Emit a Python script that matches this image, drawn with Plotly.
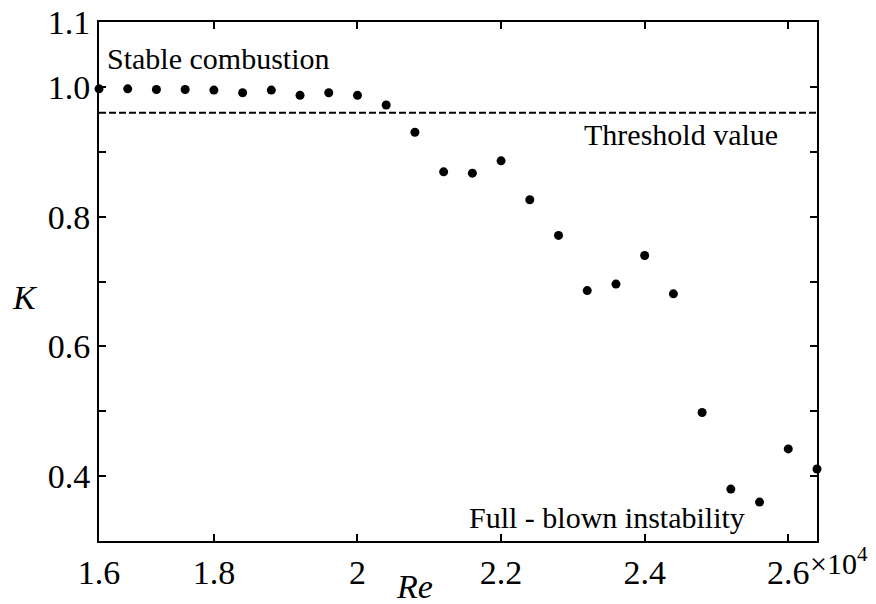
import plotly.graph_objects as go

# Reynolds number (x 10^4) and stability coefficient K
re_vals = [1.64, 1.68, 1.72, 1.76, 1.80, 1.84, 1.88, 1.92, 1.96, 2.00,
           2.04, 2.08, 2.12, 2.16, 2.20, 2.24, 2.28, 2.32, 2.36, 2.40,
           2.44, 2.48, 2.52, 2.56, 2.60, 2.64]
k_vals = [0.997, 0.997, 0.996, 0.996, 0.995, 0.991, 0.995, 0.987, 0.991, 0.987,
          0.972, 0.930, 0.869, 0.867, 0.886, 0.826, 0.771, 0.686, 0.696, 0.740,
          0.681, 0.498, 0.380, 0.360, 0.442, 0.411]

threshold_x = [1.64, 2.64]
threshold_k = [0.96, 0.96]

x_tickvals = [1.64, 1.8, 2.0, 2.2, 2.4, 2.6]
x_ticktext = ["1.6", "1.8", "2", "2.2", "2.4", "2.6"]
y_tickvals = [0.4, 0.6, 0.8, 1.0, 1.1]
y_ticktext = ["0.4", "0.6", "0.8", "1.0", "1.1"]

SERIF = "Liberation Serif"

fig = go.Figure()
fig.add_trace(go.Scatter(x=re_vals, y=k_vals, mode="markers",
                         marker=dict(color="black", size=9),
                         cliponaxis=False, showlegend=False))
fig.add_trace(go.Scatter(x=threshold_x, y=threshold_k, mode="lines",
                         line=dict(color="black", width=2, dash="7px,3px"),
                         showlegend=False))

fig.update_xaxes(range=[1.64, 2.64], tickmode="array",
                 tickvals=x_tickvals, ticktext=x_ticktext,
                 tickfont=dict(family=SERIF, size=34, color="black"),
                 showline=True, linecolor="black", linewidth=2, mirror="allticks",
                 ticks="inside", ticklen=7, tickwidth=2, tickcolor="black",
                 showgrid=False, zeroline=False, automargin=False)
fig.update_yaxes(range=[0.3, 1.1], tickmode="array",
                 tickvals=y_tickvals, ticktext=y_ticktext,
                 tickfont=dict(family=SERIF, size=34, color="black"),
                 showline=True, linecolor="black", linewidth=2, mirror="allticks",
                 ticks="inside", ticklen=7, tickwidth=2, tickcolor="black",
                 minor=dict(ticks="inside", ticklen=7, tickwidth=2, tickcolor="black",
                            tick0=0.3, dtick=0.1, showgrid=False),
                 showgrid=False, zeroline=False, automargin=False)

anns = [
    dict(text="Stable combustion", x=0.0084, y=0.9306, xanchor="left", yanchor="middle",
         font=dict(family=SERIF, size=30, color="black")),
    dict(text="Threshold value", x=0.6727, y=0.784, xanchor="left", yanchor="middle",
         font=dict(family=SERIF, size=30, color="black")),
    dict(text="Full - blown instability", x=0.5125, y=0.046, xanchor="left", yanchor="middle",
         font=dict(family=SERIF, size=30, color="black")),
    dict(text="<i>K</i>", x=-0.103, y=0.470, xanchor="center", yanchor="middle",
         font=dict(family=SERIF, size=34, color="black")),
    dict(text="<i>Re</i>", x=0.440, y=-0.0886, xanchor="center", yanchor="middle",
         font=dict(family=SERIF, size=34, color="black")),
    dict(text="×10<sup>4</sup>", x=0.9875, y=-0.0385, xanchor="left", yanchor="middle",
         font=dict(family=SERIF, size=30, color="black")),
]
for a in anns:
    a.update(xref="paper", yref="paper", showarrow=False)

fig.update_layout(width=876, height=604, annotations=anns,
                  plot_bgcolor="white", paper_bgcolor="white",
                  font=dict(family=SERIF, color="black"),
                  margin=dict(l=99, r=59, t=22, b=63))
fig.write_html("out.html")
